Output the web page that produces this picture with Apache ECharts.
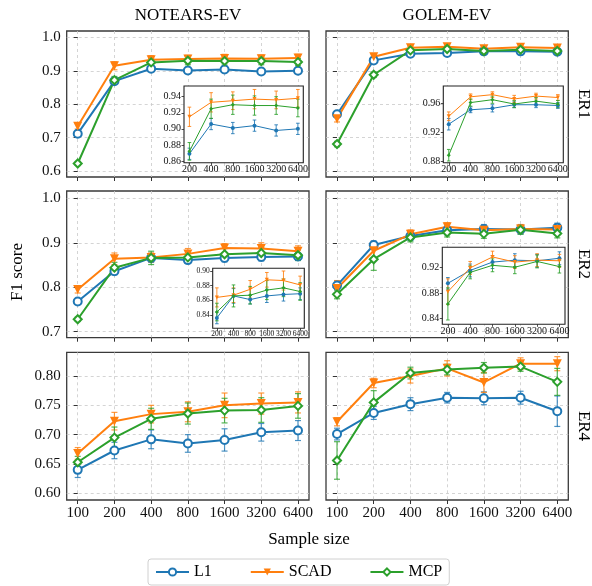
<!DOCTYPE html>
<html><head><meta charset="utf-8">
<script src="https://cdn.jsdelivr.net/npm/echarts@6/dist/echarts.min.js"></script>
<style>html,body{margin:0;padding:0;background:#fff}#c{width:592px;height:586px}</style>
</head><body><div id="c"></div>
<script>
// ---------- data ----------
const sampleSizes = [100, 200, 400, 800, 1600, 3200, 6400];
const methods = ['L1', 'SCAD', 'MCP'];
const colTitles = ['NOTEARS-EV', 'GOLEM-EV'];
const rowTitles = ['ER1', 'ER2', 'ER4'];

const notearsER1_L1      = [0.712, 0.869, 0.906, 0.901, 0.904, 0.898, 0.900];
const notearsER1_L1_err  = [0.006, 0.007, 0.007, 0.007, 0.007, 0.007, 0.007];
const notearsER1_SCAD    = [0.734, 0.915, 0.933, 0.935, 0.937, 0.936, 0.938];
const notearsER1_SCAD_err= [0.008, 0.012, 0.012, 0.011, 0.012, 0.011, 0.011];
const notearsER1_MCP     = [0.623, 0.872, 0.925, 0.930, 0.929, 0.929, 0.926];
const notearsER1_MCP_err = [0.006, 0.011, 0.012, 0.012, 0.012, 0.011, 0.011];

const golemER1_L1        = [0.770, 0.931, 0.951, 0.953, 0.958, 0.958, 0.957];
const golemER1_L1_err    = [0.008, 0.008, 0.004, 0.005, 0.004, 0.004, 0.004];
const golemER1_SCAD      = [0.757, 0.942, 0.969, 0.972, 0.966, 0.970, 0.968];
const golemER1_SCAD_err  = [0.010, 0.006, 0.004, 0.004, 0.005, 0.004, 0.004];
const golemER1_MCP       = [0.681, 0.888, 0.961, 0.965, 0.959, 0.963, 0.959];
const golemER1_MCP_err   = [0.008, 0.008, 0.005, 0.005, 0.005, 0.005, 0.005];

const notearsER2_L1      = [0.768, 0.836, 0.866, 0.861, 0.866, 0.868, 0.869];
const notearsER2_L1_err  = [0.006, 0.008, 0.010, 0.006, 0.009, 0.009, 0.008];
const notearsER2_SCAD    = [0.795, 0.864, 0.867, 0.875, 0.888, 0.887, 0.881];
const notearsER2_SCAD_err= [0.008, 0.013, 0.010, 0.012, 0.010, 0.013, 0.012];
const notearsER2_MCP     = [0.728, 0.844, 0.866, 0.867, 0.874, 0.877, 0.872];
const notearsER2_MCP_err = [0.005, 0.012, 0.015, 0.012, 0.013, 0.012, 0.012];

const golemER2_L1        = [0.804, 0.895, 0.915, 0.928, 0.931, 0.930, 0.934];
const golemER2_L1_err    = [0.010, 0.009, 0.010, 0.010, 0.010, 0.010, 0.010];
const golemER2_SCAD      = [0.797, 0.882, 0.919, 0.936, 0.928, 0.931, 0.930];
const golemER2_SCAD_err  = [0.018, 0.020, 0.010, 0.009, 0.010, 0.010, 0.010];
const golemER2_MCP       = [0.784, 0.863, 0.912, 0.923, 0.920, 0.929, 0.921];
const golemER2_MCP_err   = [0.010, 0.025, 0.010, 0.010, 0.010, 0.010, 0.010];

const notearsER4_L1      = [0.640, 0.673, 0.692, 0.685, 0.691, 0.704, 0.707];
const notearsER4_L1_err  = [0.013, 0.014, 0.016, 0.015, 0.019, 0.015, 0.017];
const notearsER4_SCAD    = [0.668, 0.723, 0.735, 0.739, 0.750, 0.753, 0.755];
const notearsER4_SCAD_err= [0.010, 0.015, 0.015, 0.017, 0.021, 0.018, 0.018];
const notearsER4_MCP     = [0.653, 0.695, 0.727, 0.736, 0.741, 0.742, 0.749];
const notearsER4_MCP_err = [0.010, 0.018, 0.018, 0.018, 0.021, 0.021, 0.021];

const golemER4_L1        = [0.701, 0.737, 0.752, 0.763, 0.762, 0.763, 0.740];
const golemER4_L1_err    = [0.010, 0.011, 0.011, 0.009, 0.011, 0.011, 0.026];
const golemER4_SCAD      = [0.722, 0.788, 0.800, 0.813, 0.789, 0.821, 0.821];
const golemER4_SCAD_err  = [0.007, 0.008, 0.012, 0.013, 0.017, 0.010, 0.012];
const golemER4_MCP       = [0.656, 0.755, 0.805, 0.811, 0.814, 0.816, 0.790];
const golemER4_MCP_err   = [0.032, 0.020, 0.010, 0.009, 0.009, 0.008, 0.023];

const yTicksRow1 = [0.6, 0.7, 0.8, 0.9, 1.0];
const yTicksRow2 = [0.7, 0.8, 0.9, 1.0];
const yTicksRow3 = [0.60, 0.65, 0.70, 0.75, 0.80];
const insetTicksNotearsER1 = [0.86, 0.88, 0.90, 0.92, 0.94];
const insetTicksGolemER1   = [0.88, 0.92, 0.96];
const insetTicksNotearsER2 = [0.84, 0.86, 0.88, 0.90];
const insetTicksGolemER2   = [0.84, 0.88, 0.92];

// ---------- layout / style ----------
const FONT = 'Liberation Serif';
const COLORS = { L1: '#1f77b4', SCAD: '#ff7f0e', MCP: '#2ca02c' };
const MAIN_SYM = { L1: 'emptyCircle', SCAD: 'triangle', MCP: 'emptyDiamond' };
const INSET_SYM = { L1: 'circle', SCAD: 'triangle', MCP: 'diamond' };
const SYM_ROT = { L1: 0, SCAD: 180, MCP: 0 };

const cols = [{ left: 66.7, width: 242.3 }, { left: 326, width: 242.3 }];
const rows = [
  { top: 31, height: 146, min: 0.5826, max: 1.0188, ticks: yTicksRow1, dec: 1 },
  { top: 191, height: 146.7, min: 0.6865, max: 1.0164, ticks: yTicksRow2, dec: 1 },
  { top: 352.3, height: 147.7, min: 0.5886, max: 0.8404, ticks: yTicksRow3, dec: 2 }
];

const panels = [
  { r: 0, c: 0, d: { L1: [notearsER1_L1, notearsER1_L1_err], SCAD: [notearsER1_SCAD, notearsER1_SCAD_err], MCP: [notearsER1_MCP, notearsER1_MCP_err] },
    inset: { left: 184, top: 86, width: 119.3, height: 76.7, min: 0.8579, max: 0.9533, ticks: insetTicksNotearsER1, font: 10 } },
  { r: 0, c: 1, d: { L1: [golemER1_L1, golemER1_L1_err], SCAD: [golemER1_SCAD, golemER1_SCAD_err], MCP: [golemER1_MCP, golemER1_MCP_err] },
    inset: { left: 443.3, top: 86, width: 120, height: 76.7, min: 0.8776, max: 0.984, ticks: insetTicksGolemER1, font: 10 } },
  { r: 1, c: 0, d: { L1: [notearsER2_L1, notearsER2_L1_err], SCAD: [notearsER2_SCAD, notearsER2_SCAD_err], MCP: [notearsER2_MCP, notearsER2_MCP_err] },
    inset: { left: 212.7, top: 268.3, width: 91.6, height: 60, min: 0.8218, max: 0.9037, ticks: insetTicksNotearsER2, font: 7.5 } },
  { r: 1, c: 1, d: { L1: [golemER2_L1, golemER2_L1_err], SCAD: [golemER2_SCAD, golemER2_SCAD_err], MCP: [golemER2_MCP, golemER2_MCP_err] },
    inset: { left: 442.3, top: 247.3, width: 122.7, height: 77, min: 0.8313, max: 0.951, ticks: insetTicksGolemER2, font: 10 } },
  { r: 2, c: 0, d: { L1: [notearsER4_L1, notearsER4_L1_err], SCAD: [notearsER4_SCAD, notearsER4_SCAD_err], MCP: [notearsER4_MCP, notearsER4_MCP_err] } },
  { r: 2, c: 1, d: { L1: [golemER4_L1, golemER4_L1_err], SCAD: [golemER4_SCAD, golemER4_SCAD_err], MCP: [golemER4_MCP, golemER4_MCP_err] } }
];

function errRenderer(color, lw, hw, opacity) {
  return function (params, api) {
    const x = api.value(0), lo = api.value(1), hi = api.value(2);
    const a = api.coord([x, hi]), b = api.coord([x, lo]);
    const st = { stroke: color, lineWidth: lw, opacity: opacity };
    return { type: 'group', children: [
      { type: 'line', shape: { x1: a[0], y1: a[1], x2: b[0], y2: b[1] }, style: st },
      { type: 'line', shape: { x1: a[0] - hw, y1: a[1], x2: a[0] + hw, y2: a[1] }, style: st },
      { type: 'line', shape: { x1: b[0] - hw, y1: b[1], x2: b[0] + hw, y2: b[1] }, style: st }
    ] };
  };
}

const grids = [], xAxes = [], yAxes = [], series = [];
const mainIdx = [0, 1, 2, 3, 4, 5, 6];
const insetIdx = [1, 2, 3, 4, 5, 6];

function addGrid(box, inset) {
  grids.push({ left: box.left, top: box.top, width: box.width, height: box.height,
    show: true, backgroundColor: inset ? '#fff' : 'transparent',
    borderColor: inset ? '#222' : '#3a3a3a', borderWidth: inset ? 1.1 : 1.3,
    z: inset ? 5 : 0, containLabel: false, outerBoundsMode: 'none' });
  return grids.length - 1;
}

panels.forEach((p) => {
  const row = rows[p.r], col = cols[p.c];
  const gi = addGrid({ left: col.left, top: row.top, width: col.width, height: row.height }, false);
  xAxes.push({ type: 'value', gridIndex: gi, min: -0.3, max: 6.3, position: 'bottom',
    axisLine: { show: false },
    axisTick: { show: true, length: 4, customValues: mainIdx, lineStyle: { color: '#333', width: 1 } },
    axisLabel: { show: p.r === 2, customValues: mainIdx, formatter: v => String(sampleSizes[Math.round(v)]),
      fontFamily: FONT, fontSize: 15, color: '#111', margin: 6 },
    splitLine: { show: true, lineStyle: { type: [3, 3], color: '#cacaca', width: 0.8 } } });
  yAxes.push({ type: 'value', gridIndex: gi, min: row.min, max: row.max, position: 'left',
    axisLine: { show: false },
    axisTick: { show: true, length: 4, customValues: row.ticks, lineStyle: { color: '#333', width: 1 } },
    axisLabel: { show: p.c === 0, customValues: row.ticks, formatter: v => v.toFixed(row.dec),
      fontFamily: FONT, fontSize: 15, color: '#111', margin: 6 },
    splitLine: { show: true, lineStyle: { type: [3, 3], color: '#cacaca', width: 0.8 } } });
  const ai = xAxes.length - 1;
  methods.forEach(m => {
    const vals = p.d[m][0], errs = p.d[m][1];
    series.push({ type: 'custom', name: m + ' err', coordinateSystem: 'cartesian2d', xAxisIndex: ai, yAxisIndex: ai,
      renderItem: errRenderer(COLORS[m], 1.2, 3, 0.8), encode: { x: 0, y: [1, 2] },
      data: mainIdx.map(i => [i, vals[i] - errs[i], vals[i] + errs[i]]), z: 2, silent: true });
    series.push({ type: 'line', name: m, xAxisIndex: ai, yAxisIndex: ai,
      data: mainIdx.map(i => [i, vals[i]]), symbol: MAIN_SYM[m], symbolRotate: SYM_ROT[m],
      symbolSize: m === 'SCAD' ? 9 : 8, showSymbol: true,
      lineStyle: { color: COLORS[m], width: 2 }, itemStyle: { color: COLORS[m], borderWidth: 1.6 }, z: 2, silent: true });
  });
});

panels.forEach((p) => {
  if (!p.inset) return;
  const s = p.inset;
  const gi = addGrid(s, true);
  xAxes.push({ type: 'value', gridIndex: gi, min: 0.75, max: 6.25, position: 'bottom', z: 5,
    axisLine: { show: false },
    axisTick: { show: true, length: 2.5, customValues: insetIdx, lineStyle: { color: '#222', width: 0.8 } },
    axisLabel: { show: true, customValues: insetIdx, formatter: v => String(sampleSizes[Math.round(v)]),
      fontFamily: FONT, fontSize: s.font, color: '#111', margin: 2 },
    splitLine: { show: false } });
  yAxes.push({ type: 'value', gridIndex: gi, min: s.min, max: s.max, position: 'left', z: 5,
    axisLine: { show: false },
    axisTick: { show: true, length: 2.5, customValues: s.ticks, lineStyle: { color: '#222', width: 0.8 } },
    axisLabel: { show: true, customValues: s.ticks, formatter: v => v.toFixed(2),
      fontFamily: FONT, fontSize: s.font, color: '#111', margin: 3 },
    splitLine: { show: false } });
  const ai = xAxes.length - 1;
  methods.forEach(m => {
    const vals = p.d[m][0], errs = p.d[m][1];
    series.push({ type: 'custom', name: m + ' inset err', coordinateSystem: 'cartesian2d', xAxisIndex: ai, yAxisIndex: ai,
      renderItem: errRenderer(COLORS[m], 1, 1.8, 0.85), encode: { x: 0, y: [1, 2] },
      data: insetIdx.map(i => [i, vals[i] - errs[i], vals[i] + errs[i]]), z: 6, silent: true });
    series.push({ type: 'line', name: m + ' inset', xAxisIndex: ai, yAxisIndex: ai,
      data: insetIdx.map(i => [i, vals[i]]), symbol: INSET_SYM[m], symbolRotate: SYM_ROT[m],
      symbolSize: 4, showSymbol: true,
      lineStyle: { color: COLORS[m], width: 1 }, itemStyle: { color: COLORS[m] }, z: 6, silent: true });
  });
});

const textStyle = (size) => ({ font: size + 'px "' + FONT + '"', fill: '#000', textAlign: 'center', textVerticalAlign: 'middle' });
const graphics = [
  { type: 'text', x: 188, y: 16, style: Object.assign({ text: colTitles[0] }, textStyle(17)) },
  { type: 'text', x: 447, y: 16, style: Object.assign({ text: colTitles[1] }, textStyle(17)) },
  { type: 'text', x: 583, y: 104, rotation: -Math.PI / 2, style: Object.assign({ text: rowTitles[0] }, textStyle(17)) },
  { type: 'text', x: 583, y: 264, rotation: -Math.PI / 2, style: Object.assign({ text: rowTitles[1] }, textStyle(17)) },
  { type: 'text', x: 583, y: 426, rotation: -Math.PI / 2, style: Object.assign({ text: rowTitles[2] }, textStyle(17)) },
  { type: 'text', x: 18, y: 272, rotation: Math.PI / 2, style: Object.assign({ text: 'F1 score' }, textStyle(17)) },
  { type: 'text', x: 309, y: 540, style: Object.assign({ text: 'Sample size' }, textStyle(17)) }
];

const chart = echarts.init(document.getElementById('c'), null, { renderer: 'canvas' });
chart.setOption({
  animation: false,
  backgroundColor: '#fff',
  grid: grids,
  xAxis: xAxes,
  yAxis: yAxes,
  series: series,
  graphic: graphics,
  legend: {
    data: methods, left: 148, top: 559, orient: 'horizontal',
    itemWidth: 33, itemHeight: 9, itemGap: 38,
    padding: [5, 7, 5, 7], borderColor: '#d0d0d0', borderWidth: 1, borderRadius: 3,
    textStyle: { fontFamily: FONT, fontSize: 16, color: '#000' },
    selectedMode: false
  }
});
</script>
</body></html>
